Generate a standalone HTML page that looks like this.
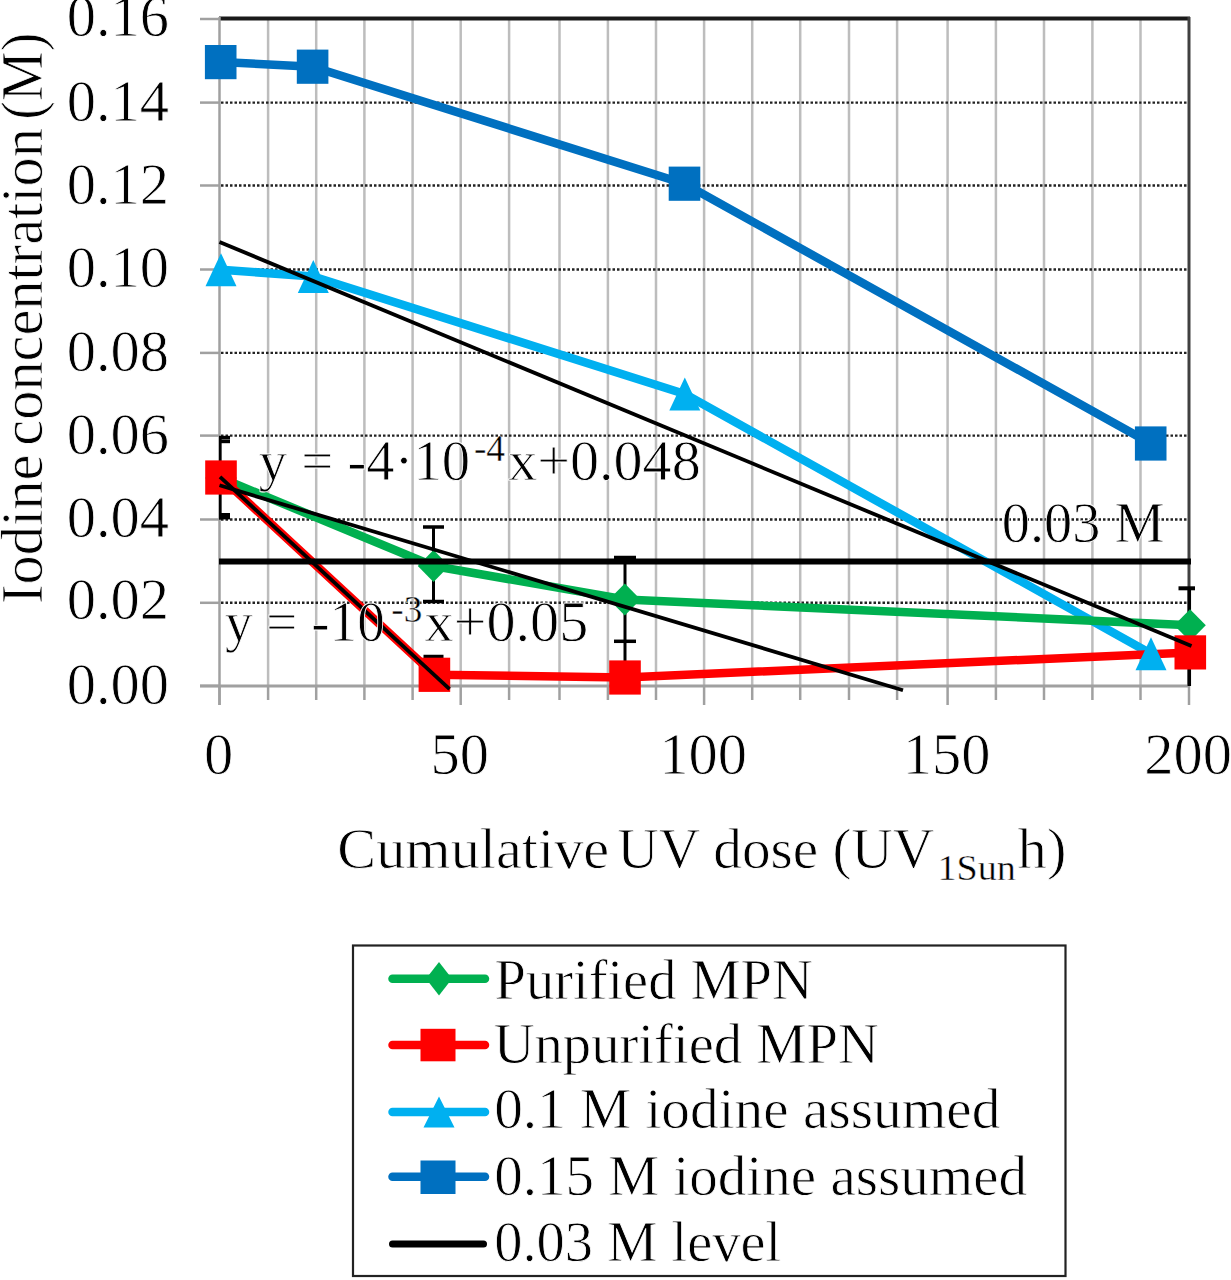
<!DOCTYPE html><html><head><meta charset="utf-8"><style>html,body{margin:0;padding:0;background:#fff;}</style></head><body><svg width="1231" height="1280" viewBox="0 0 1231 1280" style="display:block;font-family:'Liberation Serif', serif">
<rect width="1231" height="1280" fill="#fff"/>
<style>text{font-family:"Liberation Serif",serif;stroke:#fff;stroke-width:0.8px;} text.sm{stroke-width:0.4px;}</style>
<defs><clipPath id="pa"><rect x="219" y="17" width="972" height="671"/></clipPath></defs>
<line x1="219.5" y1="686" x2="219.5" y2="705" stroke="#a0a0a0" stroke-width="2.5"/>
<line x1="268.1" y1="19" x2="268.1" y2="686" stroke="#bdbdbd" stroke-width="2.5"/>
<line x1="268.1" y1="686" x2="268.1" y2="700" stroke="#a0a0a0" stroke-width="2.5"/>
<line x1="316.2" y1="19" x2="316.2" y2="686" stroke="#bdbdbd" stroke-width="2.5"/>
<line x1="316.2" y1="686" x2="316.2" y2="700" stroke="#a0a0a0" stroke-width="2.5"/>
<line x1="364.4" y1="19" x2="364.4" y2="686" stroke="#bdbdbd" stroke-width="2.5"/>
<line x1="364.4" y1="686" x2="364.4" y2="700" stroke="#a0a0a0" stroke-width="2.5"/>
<line x1="412.6" y1="19" x2="412.6" y2="686" stroke="#bdbdbd" stroke-width="2.5"/>
<line x1="412.6" y1="686" x2="412.6" y2="700" stroke="#a0a0a0" stroke-width="2.5"/>
<line x1="460.7" y1="19" x2="460.7" y2="686" stroke="#bdbdbd" stroke-width="2.5"/>
<line x1="460.7" y1="686" x2="460.7" y2="705" stroke="#a0a0a0" stroke-width="2.5"/>
<line x1="509.1" y1="19" x2="509.1" y2="686" stroke="#bdbdbd" stroke-width="2.5"/>
<line x1="509.1" y1="686" x2="509.1" y2="700" stroke="#a0a0a0" stroke-width="2.5"/>
<line x1="559.5" y1="19" x2="559.5" y2="686" stroke="#bdbdbd" stroke-width="2.5"/>
<line x1="559.5" y1="686" x2="559.5" y2="700" stroke="#a0a0a0" stroke-width="2.5"/>
<line x1="607.9" y1="19" x2="607.9" y2="686" stroke="#bdbdbd" stroke-width="2.5"/>
<line x1="607.9" y1="686" x2="607.9" y2="700" stroke="#a0a0a0" stroke-width="2.5"/>
<line x1="656" y1="19" x2="656" y2="686" stroke="#bdbdbd" stroke-width="2.5"/>
<line x1="656" y1="686" x2="656" y2="700" stroke="#a0a0a0" stroke-width="2.5"/>
<line x1="704.1" y1="19" x2="704.1" y2="686" stroke="#bdbdbd" stroke-width="2.5"/>
<line x1="704.1" y1="686" x2="704.1" y2="705" stroke="#a0a0a0" stroke-width="2.5"/>
<line x1="752.2" y1="19" x2="752.2" y2="686" stroke="#bdbdbd" stroke-width="2.5"/>
<line x1="752.2" y1="686" x2="752.2" y2="700" stroke="#a0a0a0" stroke-width="2.5"/>
<line x1="800.2" y1="19" x2="800.2" y2="686" stroke="#bdbdbd" stroke-width="2.5"/>
<line x1="800.2" y1="686" x2="800.2" y2="700" stroke="#a0a0a0" stroke-width="2.5"/>
<line x1="849" y1="19" x2="849" y2="686" stroke="#bdbdbd" stroke-width="2.5"/>
<line x1="849" y1="686" x2="849" y2="700" stroke="#a0a0a0" stroke-width="2.5"/>
<line x1="897.1" y1="19" x2="897.1" y2="686" stroke="#bdbdbd" stroke-width="2.5"/>
<line x1="897.1" y1="686" x2="897.1" y2="700" stroke="#a0a0a0" stroke-width="2.5"/>
<line x1="947.6" y1="19" x2="947.6" y2="686" stroke="#bdbdbd" stroke-width="2.5"/>
<line x1="947.6" y1="686" x2="947.6" y2="705" stroke="#a0a0a0" stroke-width="2.5"/>
<line x1="995.9" y1="19" x2="995.9" y2="686" stroke="#bdbdbd" stroke-width="2.5"/>
<line x1="995.9" y1="686" x2="995.9" y2="700" stroke="#a0a0a0" stroke-width="2.5"/>
<line x1="1044" y1="19" x2="1044" y2="686" stroke="#bdbdbd" stroke-width="2.5"/>
<line x1="1044" y1="686" x2="1044" y2="700" stroke="#a0a0a0" stroke-width="2.5"/>
<line x1="1092.4" y1="19" x2="1092.4" y2="686" stroke="#bdbdbd" stroke-width="2.5"/>
<line x1="1092.4" y1="686" x2="1092.4" y2="700" stroke="#a0a0a0" stroke-width="2.5"/>
<line x1="1140.5" y1="19" x2="1140.5" y2="686" stroke="#bdbdbd" stroke-width="2.5"/>
<line x1="1140.5" y1="686" x2="1140.5" y2="700" stroke="#a0a0a0" stroke-width="2.5"/>
<line x1="1189" y1="686" x2="1189" y2="705" stroke="#a0a0a0" stroke-width="2.5"/>
<line x1="200" y1="19.0" x2="219" y2="19.0" stroke="#a0a0a0" stroke-width="2.5"/>
<line x1="221" y1="102.6" x2="1188" y2="102.6" stroke="#222" stroke-width="2.4" stroke-dasharray="2.5 2"/>
<line x1="200" y1="102.6" x2="219" y2="102.6" stroke="#a0a0a0" stroke-width="2.5"/>
<line x1="221" y1="185.5" x2="1188" y2="185.5" stroke="#222" stroke-width="2.4" stroke-dasharray="2.5 2"/>
<line x1="200" y1="185.5" x2="219" y2="185.5" stroke="#a0a0a0" stroke-width="2.5"/>
<line x1="221" y1="269.5" x2="1188" y2="269.5" stroke="#222" stroke-width="2.4" stroke-dasharray="2.5 2"/>
<line x1="200" y1="269.5" x2="219" y2="269.5" stroke="#a0a0a0" stroke-width="2.5"/>
<line x1="221" y1="352.9" x2="1188" y2="352.9" stroke="#222" stroke-width="2.4" stroke-dasharray="2.5 2"/>
<line x1="200" y1="352.9" x2="219" y2="352.9" stroke="#a0a0a0" stroke-width="2.5"/>
<line x1="221" y1="435.6" x2="1188" y2="435.6" stroke="#222" stroke-width="2.4" stroke-dasharray="2.5 2"/>
<line x1="200" y1="435.6" x2="219" y2="435.6" stroke="#a0a0a0" stroke-width="2.5"/>
<line x1="221" y1="519.5" x2="1188" y2="519.5" stroke="#222" stroke-width="2.4" stroke-dasharray="2.5 2"/>
<line x1="200" y1="519.5" x2="219" y2="519.5" stroke="#a0a0a0" stroke-width="2.5"/>
<line x1="221" y1="602.8" x2="1188" y2="602.8" stroke="#222" stroke-width="2.4" stroke-dasharray="2.5 2"/>
<line x1="200" y1="602.8" x2="219" y2="602.8" stroke="#a0a0a0" stroke-width="2.5"/>
<line x1="200" y1="685.9" x2="219" y2="685.9" stroke="#a0a0a0" stroke-width="2.5"/>
<line x1="219" y1="18.6" x2="1190" y2="18.6" stroke="#1a1a1a" stroke-width="4"/>
<line x1="1189" y1="17" x2="1189" y2="686" stroke="#404040" stroke-width="3"/>
<line x1="219.5" y1="17" x2="219.5" y2="705" stroke="#a0a0a0" stroke-width="2.5"/>
<line x1="200" y1="685.9" x2="1190" y2="685.9" stroke="#a0a0a0" stroke-width="3"/>
<g clip-path="url(#pa)">
<line x1="220" y1="436" x2="220" y2="519.5" stroke="#000" stroke-width="3.3" />
<line x1="209.5" y1="437.6" x2="230" y2="437.6" stroke="#000" stroke-width="3.6" />
<line x1="209.5" y1="441.4" x2="230" y2="441.4" stroke="#000" stroke-width="3.6" />
<line x1="209.5" y1="514.8" x2="230" y2="514.8" stroke="#000" stroke-width="3.6" />
<line x1="209.5" y1="517.6" x2="230" y2="517.6" stroke="#000" stroke-width="3.6" />
</g>
<line x1="433.5" y1="526.3" x2="433.5" y2="602.1" stroke="#000" stroke-width="3" />
<line x1="423" y1="527" x2="444" y2="527" stroke="#000" stroke-width="3.5" />
<line x1="423" y1="601.5" x2="444" y2="601.5" stroke="#000" stroke-width="3.5" />
<line x1="433.5" y1="656.3" x2="433.5" y2="686" stroke="#000" stroke-width="3" />
<line x1="423.5" y1="656.5" x2="443.5" y2="656.5" stroke="#000" stroke-width="3.5" />
<line x1="625" y1="558" x2="625" y2="686" stroke="#000" stroke-width="3" />
<line x1="614" y1="557.5" x2="636" y2="557.5" stroke="#000" stroke-width="3.5" />
<line x1="614" y1="641.3" x2="636" y2="641.3" stroke="#000" stroke-width="3.5" />
<line x1="1189.3" y1="588" x2="1189.3" y2="686" stroke="#000" stroke-width="3.5" />
<line x1="1178.5" y1="588.3" x2="1195" y2="588.3" stroke="#000" stroke-width="4" />
<polyline points="220.7,62.1 312.6,66.7 684.5,183.7 1150.7,443.5" fill="none" stroke="#0070C0" stroke-width="8.5" stroke-linejoin="round"/>
<polyline points="221,269.7 313.3,276.5 684.8,394 1151,653.7" fill="none" stroke="#00B0F0" stroke-width="8.5" stroke-linejoin="round"/>
<polyline points="221,478 433.5,566 624.8,599.4 1190,625.2" fill="none" stroke="#00B050" stroke-width="8.5" stroke-linejoin="round"/>
<polyline points="221,477.5 434.4,674.8 625,677.5 1190.3,652.4" fill="none" stroke="#FF0000" stroke-width="8.5" stroke-linejoin="round"/>
<rect x="204.9" y="45.0" width="31.6" height="34.2" fill="#0070C0"/>
<rect x="296.8" y="49.6" width="31.6" height="34.2" fill="#0070C0"/>
<rect x="668.7" y="166.6" width="31.6" height="34.2" fill="#0070C0"/>
<rect x="1134.9" y="426.4" width="31.6" height="34.2" fill="#0070C0"/>
<polygon points="221.0,253.2 236.5,286.2 205.5,286.2" fill="#00B0F0"/>
<polygon points="313.3,260.0 328.8,293.0 297.8,293.0" fill="#00B0F0"/>
<polygon points="684.8,377.5 700.3,410.5 669.3,410.5" fill="#00B0F0"/>
<polygon points="1151.0,637.2 1166.5,670.2 1135.5,670.2" fill="#00B0F0"/>
<polygon points="221.0,462.0 236.8,478.0 221.0,494.0 205.2,478.0" fill="#00B050"/>
<polygon points="433.5,550.0 449.2,566.0 433.5,582.0 417.8,566.0" fill="#00B050"/>
<polygon points="624.8,583.4 640.5,599.4 624.8,615.4 609.0,599.4" fill="#00B050"/>
<polygon points="1190.0,609.2 1205.8,625.2 1190.0,641.2 1174.2,625.2" fill="#00B050"/>
<rect x="205.2" y="460.4" width="31.6" height="34.2" fill="#FF0000"/>
<rect x="418.6" y="657.7" width="31.6" height="34.2" fill="#FF0000"/>
<rect x="609.2" y="660.4" width="31.6" height="34.2" fill="#FF0000"/>
<rect x="1174.5" y="635.3" width="31.6" height="34.2" fill="#FF0000"/>
<line x1="219" y1="561.6" x2="1191" y2="561.6" stroke="#000" stroke-width="6" />
<line x1="219.5" y1="242" x2="1191.5" y2="646" stroke="#000" stroke-width="3.8" />
<line x1="219.5" y1="485.3" x2="903" y2="690.2" stroke="#000" stroke-width="3.8" />
<line x1="220" y1="476.8" x2="449.6" y2="689.1" stroke="#000" stroke-width="3.8" />
<text x="169" y="36.3" font-size="58.5" text-anchor="end" >0.16</text>
<text x="169" y="121.3" font-size="58.5" text-anchor="end" >0.14</text>
<text x="169" y="204.1" font-size="58.5" text-anchor="end" >0.12</text>
<text x="169" y="286.9" font-size="58.5" text-anchor="end" >0.10</text>
<text x="169" y="371.3" font-size="58.5" text-anchor="end" >0.08</text>
<text x="169" y="454.4" font-size="58.5" text-anchor="end" >0.06</text>
<text x="169" y="536.9" font-size="58.5" text-anchor="end" >0.04</text>
<text x="169" y="619.4" font-size="58.5" text-anchor="end" >0.02</text>
<text x="169" y="704.4" font-size="58.5" text-anchor="end" >0.00</text>
<text x="218.5" y="773.9" font-size="58.5" text-anchor="middle" >0</text>
<text x="459.7" y="773.9" font-size="58.5" text-anchor="middle" >50</text>
<text x="703.1" y="773.9" font-size="58.5" text-anchor="middle" >100</text>
<text x="946.6" y="773.9" font-size="58.5" text-anchor="middle" >150</text>
<text x="1188" y="773.9" font-size="58.5" text-anchor="middle" >200</text>
<g transform="translate(41.5,0) rotate(-90)">
<text x="-604.05" y="0" font-size="58.5" textLength="149.38" lengthAdjust="spacingAndGlyphs" >Iodine</text>
<text x="-445.69" y="0" font-size="58.5" textLength="317.54" lengthAdjust="spacingAndGlyphs" >concentration</text>
<text x="-119.82" y="0" font-size="58.5" textLength="87.22" lengthAdjust="spacingAndGlyphs" >(M)</text>
</g>
<text x="337.37" y="868" font-size="57.5" textLength="271.79" lengthAdjust="spacingAndGlyphs" >Cumulative</text>
<text x="617.36" y="868" font-size="57.5" textLength="316.82" lengthAdjust="spacingAndGlyphs" >UV dose (UV</text>
<text x="937.47" y="879.5" font-size="36" textLength="78.35" lengthAdjust="spacingAndGlyphs" class="sm">1Sun</text>
<text x="1017.61" y="868" font-size="57.5" textLength="48.81" lengthAdjust="spacingAndGlyphs" >h)</text>
<text x="258.79" y="479.8" font-size="57" textLength="211.33" lengthAdjust="spacingAndGlyphs" >y = -4·10</text>
<text x="473.90" y="461" font-size="38" textLength="31.18" lengthAdjust="spacingAndGlyphs" class="sm">-4</text>
<text x="508.12" y="479.8" font-size="57" textLength="192.60" lengthAdjust="spacingAndGlyphs" >x+0.048</text>
<text x="225.01" y="640.5" font-size="57" textLength="159.73" lengthAdjust="spacingAndGlyphs" >y = -10</text>
<text x="391.30" y="621.8" font-size="37" textLength="31.00" lengthAdjust="spacingAndGlyphs" class="sm">-3</text>
<text x="424.62" y="640.5" font-size="57" textLength="163.65" lengthAdjust="spacingAndGlyphs" >x+0.05</text>
<text x="1001.79" y="541.7" font-size="57" textLength="162.76" lengthAdjust="spacingAndGlyphs" >0.03 M</text>
<rect x="353" y="945.5" width="712.5" height="330.5" fill="none" stroke="#222" stroke-width="2.2"/>
<line x1="392.5" y1="978.75" x2="485" y2="978.75" stroke="#00B050" stroke-width="8.5" stroke-linecap="round"/>
<polygon points="439.0,962.0 452.0,978.8 439.0,995.5 426.0,978.8" fill="#00B050"/>
<text x="494.61" y="999.2" font-size="58" textLength="318.12" lengthAdjust="spacingAndGlyphs" >Purified MPN</text>
<line x1="392.5" y1="1045" x2="485" y2="1045" stroke="#FF0000" stroke-width="8.5" stroke-linecap="round"/>
<rect x="420.5" y="1028.8" width="35" height="32.5" fill="#FF0000"/>
<text x="493.67" y="1062.5" font-size="58" textLength="385.32" lengthAdjust="spacingAndGlyphs" >Unpurified MPN</text>
<line x1="392.5" y1="1112" x2="485" y2="1112" stroke="#00B0F0" stroke-width="8.5" stroke-linecap="round"/>
<polygon points="439.0,1096.5 454.5,1127.5 423.5,1127.5" fill="#00B0F0"/>
<text x="494.15" y="1128.2" font-size="58" textLength="506.18" lengthAdjust="spacingAndGlyphs" >0.1 M iodine assumed</text>
<line x1="392.5" y1="1176.7" x2="485" y2="1176.7" stroke="#0070C0" stroke-width="8.5" stroke-linecap="round"/>
<rect x="420.5" y="1160.5" width="35" height="33.5" fill="#0070C0"/>
<text x="494.16" y="1195.2" font-size="58" textLength="532.97" lengthAdjust="spacingAndGlyphs" >0.15 M iodine assumed</text>
<line x1="392.5" y1="1244" x2="483.5" y2="1244" stroke="#000" stroke-width="7" stroke-linecap="round"/>
<text x="494.18" y="1261" font-size="58" textLength="287.16" lengthAdjust="spacingAndGlyphs" >0.03 M level</text>
</svg></body></html>
